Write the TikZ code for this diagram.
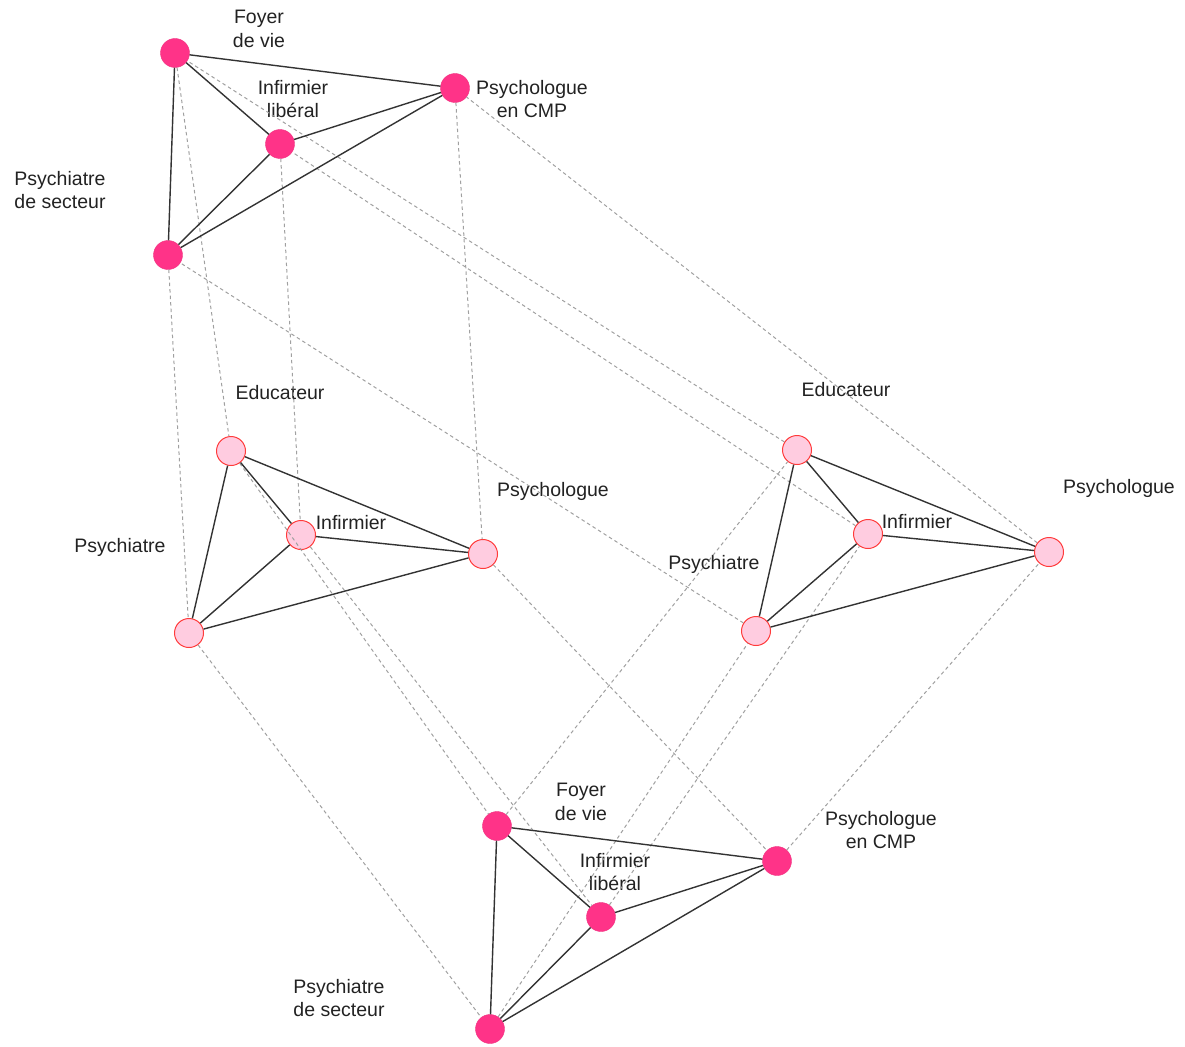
\documentclass[tikz,border=0pt]{standalone}
\usepackage{fontspec}
\setmainfont{Liberation Sans}
\definecolor{rose}{HTML}{FF3388}
\definecolor{roseline}{HTML}{F0307F}
\definecolor{pale}{HTML}{FFCCE0}
\definecolor{paleline}{HTML}{FF3B3B}
\definecolor{link}{HTML}{A0A0A0}
\definecolor{txt}{HTML}{222222}
\begin{document}
\begin{tikzpicture}[x=1pt,y=-1pt,
    dark/.style={circle,minimum size=29pt,inner sep=0pt,fill=rose,draw=roseline},
    light/.style={circle,minimum size=29pt,inner sep=0pt,fill=pale,draw=paleline,line width=1pt},
    tag/.style={align=center,inner sep=0pt,text=txt,font=\fontsize{19.5}{23.5}\selectfont},
    edge/.style={draw=black!80,line width=1.4pt},
    proj/.style={draw=link,line width=1pt,dash pattern=on 3.5pt off 3pt}]
    \useasboundingbox (0,0) rectangle (1185,1046);

    % Top graph %
    \node[dark] (f1) at (175,53) {};
    \node[dark] (i1) at (280,144) {};
    \node[dark] (p1) at (455,88) {};
    \node[dark] (s1) at (168,255) {};
    \node[tag] (tf1) at (259,29) {Foyer\\de vie};
    \node[tag] (ti1) at (293,99) {Infirmier\\libéral};
    \node[tag] (tp1) at (532,99) {Psychologue\\en CMP};
    \node[tag] (ts1) at (60,190) {Psychiatre\\de secteur};

    % Left graph %
    \node[light] (e2) at (231,451) {};
    \node[light] (i2) at (301,535) {};
    \node[light] (p2) at (483,554) {};
    \node[light] (s2) at (189,633) {};
    \node[tag] (te2) at (280,393) {Educateur};
    \node[tag] (ti2) at (351,523) {Infirmier};
    \node[tag] (tp2) at (553,491) {Psychologue};
    \node[tag] (ts2) at (120,547) {Psychiatre};

    % Right graph %
    \node[light] (e3) at (797,450) {};
    \node[light] (i3) at (868,534) {};
    \node[light] (p3) at (1049,552) {};
    \node[light] (s3) at (756,631) {};
    \node[tag] (te3) at (846,390) {Educateur};
    \node[tag] (ti3) at (917,522) {Infirmier};
    \node[tag] (tp3) at (1119,488) {Psychologue};
    \node[tag] (ts3) at (714,564) {Psychiatre};

    % Bottom graph %
    \node[dark] (f4) at (497,826) {};
    \node[dark] (i4) at (601,917) {};
    \node[dark] (p4) at (777,861) {};
    \node[dark] (s4) at (490,1029) {};
    \node[tag] (tf4) at (581,802) {Foyer\\de vie};
    \node[tag] (ti4) at (615,872) {Infirmier\\libéral};
    \node[tag] (tp4) at (881,830) {Psychologue\\en CMP};
    \node[tag] (ts4) at (339,998) {Psychiatre\\de secteur};

    % Projections %
    \draw[proj] (f1) -- (e2) -- (f4) -- (e3) -- (f1);
    \draw[proj] (i1) -- (i2) -- (i4) -- (i3) -- (i1);
    \draw[proj] (p1) -- (p2) -- (p4) -- (p3) -- (p1);
    \draw[proj] (s1) -- (s2) -- (s4) -- (s3) -- (s1);

    % Edges %
    \draw[edge] (f1) -- (p1) -- (i1) -- (f1) -- (s1) -- (i1) (s1) -- (p1);
    \draw[edge] (e2) -- (p2) -- (i2) -- (e2) -- (s2) -- (i2) (s2) -- (p2);
    \draw[edge] (e3) -- (p3) -- (i3) -- (e3) -- (s3) -- (i3) (s3) -- (p3);
    \draw[edge] (f4) -- (p4) -- (i4) -- (f4) -- (s4) -- (i4) (s4) -- (p4);
\end{tikzpicture}
\end{document}
